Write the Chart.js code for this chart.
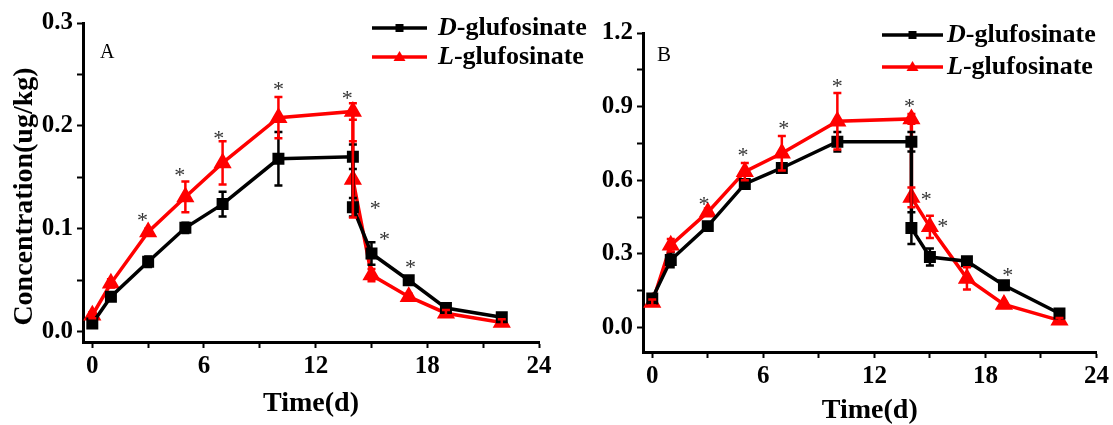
<!DOCTYPE html>
<html>
  <head>
    <style>
      * {
        margin: 0;
        padding: 0;
      }
      body {
        background: #ffffff;
        width: 1113px;
        height: 425px;
        overflow: hidden;
        position: relative;
      }
      .box {
        position: absolute;
        top: 0;
        height: 425px;
      }
      #boxA {
        left: 0;
        width: 595px;
      }
      #boxB {
        left: 595px;
        width: 518px;
      }
    </style>
  </head>
  <body>
    <div class="box" id="boxA"><canvas id="chartA"></canvas></div>
    <div class="box" id="boxB"><canvas id="chartB"></canvas></div>
    <script src="https://cdn.jsdelivr.net/npm/chart.js/dist/chart.umd.min.js"></script>
    <script>
      // sampling days (two samples on day 14)
      const days = [0, 1, 3, 5, 7, 10, 14, 14, 15, 17, 19, 22];

      // panel A
      const dA = [0.008, 0.034, 0.068, 0.101, 0.124, 0.168, 0.17, 0.121, 0.076, 0.05, 0.023, 0.014];
      const dAerr = [0.003, 0.004, 0.005, 0.005, 0.012, 0.026, 0.012, 0.009, 0.011, 0.003, 0.003, 0.003];
      const lA = [0.016, 0.047, 0.097, 0.131, 0.164, 0.208, 0.214, 0.148, 0.055, 0.034, 0.018, 0.009];
      const lAerr = [0.003, 0.004, 0.003, 0.015, 0.021, 0.02, 0.008, 0.037, 0.006, 0.003, 0.003, 0.003];
      const starsA = [[2.7, 0.112], [4.7, 0.156], [6.8, 0.192], [10.0, 0.24], [13.7, 0.231], [15.2, 0.124], [15.7, 0.094], [17.1, 0.067]];

      // panel B
      const dB = [0.118, 0.275, 0.413, 0.585, 0.65, 0.757, 0.757, 0.405, 0.287, 0.27, 0.172, 0.057];
      const dBerr = [0.01, 0.03, 0.015, 0.015, 0.015, 0.04, 0.04, 0.065, 0.035, 0.012, 0.012, 0.012];
      const lB = [0.102, 0.335, 0.47, 0.635, 0.71, 0.84, 0.85, 0.53, 0.41, 0.2, 0.094, 0.029];
      const lBerr = [0.012, 0.025, 0.015, 0.035, 0.07, 0.115, 0.02, 0.04, 0.045, 0.045, 0.01, 0.01];
      const starsB = [[2.8, 0.52], [4.9, 0.72], [7.1, 0.83], [10, 1.0], [13.9, 0.92], [14.8, 0.54], [15.7, 0.43], [19.2, 0.23]];

      // ticks (labels on every other tick)
      const xTicks = [0, 3, 6, 9, 12, 15, 18, 21, 24];
      const yTicksA = [0, 0.05, 0.1, 0.15, 0.2, 0.25, 0.3];
      const yTicksB = [0, 0.15, 0.3, 0.45, 0.6, 0.75, 0.9, 1.05, 1.2];

      const serif = '"Liberation Serif", "Times New Roman", serif';
      const RED = "#ff0000";

      // error bars, asterisks, legend and panel letter
      const extras = {
        id: "extras",
        afterDatasetsDraw(chart, args, opts) {
          const { ctx } = chart;
          const x = chart.scales.x;
          const y = chart.scales.y;
          ctx.save();
          chart.data.datasets.forEach((ds) => {
            ctx.strokeStyle = ds.borderColor;
            ctx.lineWidth = 2.5;
            ds.data.forEach((p, i) => {
              const px = x.getPixelForValue(p.x);
              const top = y.getPixelForValue(p.y + ds.errors[i]);
              const bot = y.getPixelForValue(p.y - ds.errors[i]);
              ctx.beginPath();
              ctx.moveTo(px, top);
              ctx.lineTo(px, bot);
              ctx.moveTo(px - 4, top);
              ctx.lineTo(px + 4, top);
              ctx.moveTo(px - 4, bot);
              ctx.lineTo(px + 4, bot);
              ctx.stroke();
            });
          });

          // asterisks
          ctx.fillStyle = "#333333";
          ctx.font = "22px " + serif;
          ctx.textAlign = "center";
          ctx.textBaseline = "alphabetic";
          opts.stars.forEach((s) => {
            ctx.fillText("*", x.getPixelForValue(s[0]), y.getPixelForValue(s[1]) + 11);
          });

          // panel letter
          ctx.fillStyle = "#000";
          ctx.font = opts.letterSize + "px " + serif;
          ctx.textAlign = "left";
          ctx.textBaseline = "middle";
          ctx.fillText(opts.letter, opts.letterX, opts.letterY);

          // legend
          const lg = opts.legend;
          chart.data.datasets.forEach((ds, i) => {
            const ly = lg.y + i * lg.gap;
            ctx.strokeStyle = ds.borderColor;
            ctx.fillStyle = ds.borderColor;
            ctx.lineWidth = 3.5;
            ctx.beginPath();
            ctx.moveTo(lg.x0, ly);
            ctx.lineTo(lg.x1, ly);
            ctx.stroke();
            const mx = (lg.x0 + lg.x1) / 2;
            ctx.beginPath();
            if (ds.pointStyle === "rect") {
              ctx.rect(mx - 4, ly - 4, 8, 8);
            } else {
              ctx.moveTo(mx, ly - 6);
              ctx.lineTo(mx + 6, ly + 4);
              ctx.lineTo(mx - 6, ly + 4);
              ctx.closePath();
            }
            ctx.fill();
            ctx.fillStyle = "#000";
            ctx.textBaseline = "middle";
            ctx.font = "italic bold " + lg.size + "px " + serif;
            const head = ds.label.charAt(0);
            ctx.fillText(head, lg.tx, ly);
            const w = ctx.measureText(head).width;
            ctx.font = "bold " + lg.size + "px " + serif;
            ctx.fillText(ds.label.slice(1), lg.tx + w, ly);
          });
          ctx.restore();
        },
      };

      function makeChart(id, d, dErr, l, lErr, yMin, yMax, yTicks, yWidth, xHeight, pad, titleY, titlePad, extraOpts) {
        const tickFont = { family: serif, weight: "bold", size: 25 };
        const grid = {
          drawOnChartArea: false,
          drawTicks: true,
          tickLength: 6,
          tickWidth: 2,
          tickColor: "#000",
        };
        const border = { display: true, width: 3, color: "#000" };
        return new Chart(document.getElementById(id), {
          type: "line",
          data: {
            datasets: [
              {
                label: "D-glufosinate",
                data: days.map((t, i) => ({ x: t, y: d[i] })),
                errors: dErr,
                borderColor: "#000000",
                backgroundColor: "#000000",
                borderWidth: 3.5,
                pointStyle: "rect",
                pointRadius: 6,
              },
              {
                label: "L-glufosinate",
                data: days.map((t, i) => ({ x: t, y: l[i] })),
                errors: lErr,
                borderColor: RED,
                backgroundColor: RED,
                borderWidth: 3.5,
                pointStyle: "triangle",
                pointRadius: 7,
              },
            ],
          },
          options: {
            responsive: true,
            maintainAspectRatio: false,
            animation: false,
            layout: { padding: pad },
            plugins: {
              legend: { display: false },
              tooltip: { enabled: false },
              extras: extraOpts,
            },
            scales: {
              x: {
                type: "linear",
                min: -0.5,
                max: 24,
                afterBuildTicks: (s) => {
                  s.ticks = xTicks.map((v) => ({ value: v }));
                },
                afterFit: (s) => {
                  s.height = xHeight;
                },
                ticks: {
                  font: tickFont,
                  color: "#000",
                  padding: 4,
                  maxRotation: 0,
                  autoSkip: false,
                  callback: (v, i) => (i % 2 === 0 ? String(v) : ""),
                },
                grid: grid,
                border: border,
                title: {
                  display: true,
                  text: "Time(d)",
                  color: "#000",
                  font: { family: serif, weight: "bold", size: 28, lineHeight: 1 },
                  padding: { top: 0, bottom: titlePad },
                },
              },
              y: {
                min: yMin,
                max: yMax,
                afterBuildTicks: (s) => {
                  s.ticks = yTicks.map((v) => ({ value: v }));
                },
                afterFit: (s) => {
                  s.width = yWidth;
                },
                ticks: {
                  font: tickFont,
                  color: "#000",
                  padding: 4,
                  autoSkip: false,
                  callback: (v, i) => (i % 2 === 0 ? v.toFixed(1) : ""),
                },
                grid: grid,
                border: border,
                title: titleY,
              },
            },
          },
          plugins: [extras],
        });
      }

      makeChart(
        "chartA", dA, dAerr, lA, lAerr, -0.01, 0.3, yTicksA, 83, 83,
        { left: 0, top: 23, right: 56, bottom: 0 },
        {
          display: true,
          text: "Concentration(ug/kg)    ",
          color: "#000",
          font: { family: serif, weight: "bold", size: 28, lineHeight: 1 },
          padding: { top: 11, bottom: 0 },
        },
        7,
        {
          stars: starsA,
          letter: "A",
          letterSize: 20,
          letterX: 100,
          letterY: 53,
          legend: { x0: 372, x1: 427, tx: 438, y: 28, gap: 29, size: 26 },
        }
      );

      makeChart(
        "chartB", dB, dBerr, lB, lBerr, -0.1, 1.2, yTicksB, 48, 73,
        { left: 0, top: 33, right: 14, bottom: 0 },
        { display: false },
        0,
        {
          stars: starsB,
          letter: "B",
          letterSize: 21,
          letterX: 62,
          letterY: 55,
          legend: { x0: 287, x1: 348, tx: 352, y: 35, gap: 32, size: 26 },
        }
      );
    </script>
  </body>
</html>
